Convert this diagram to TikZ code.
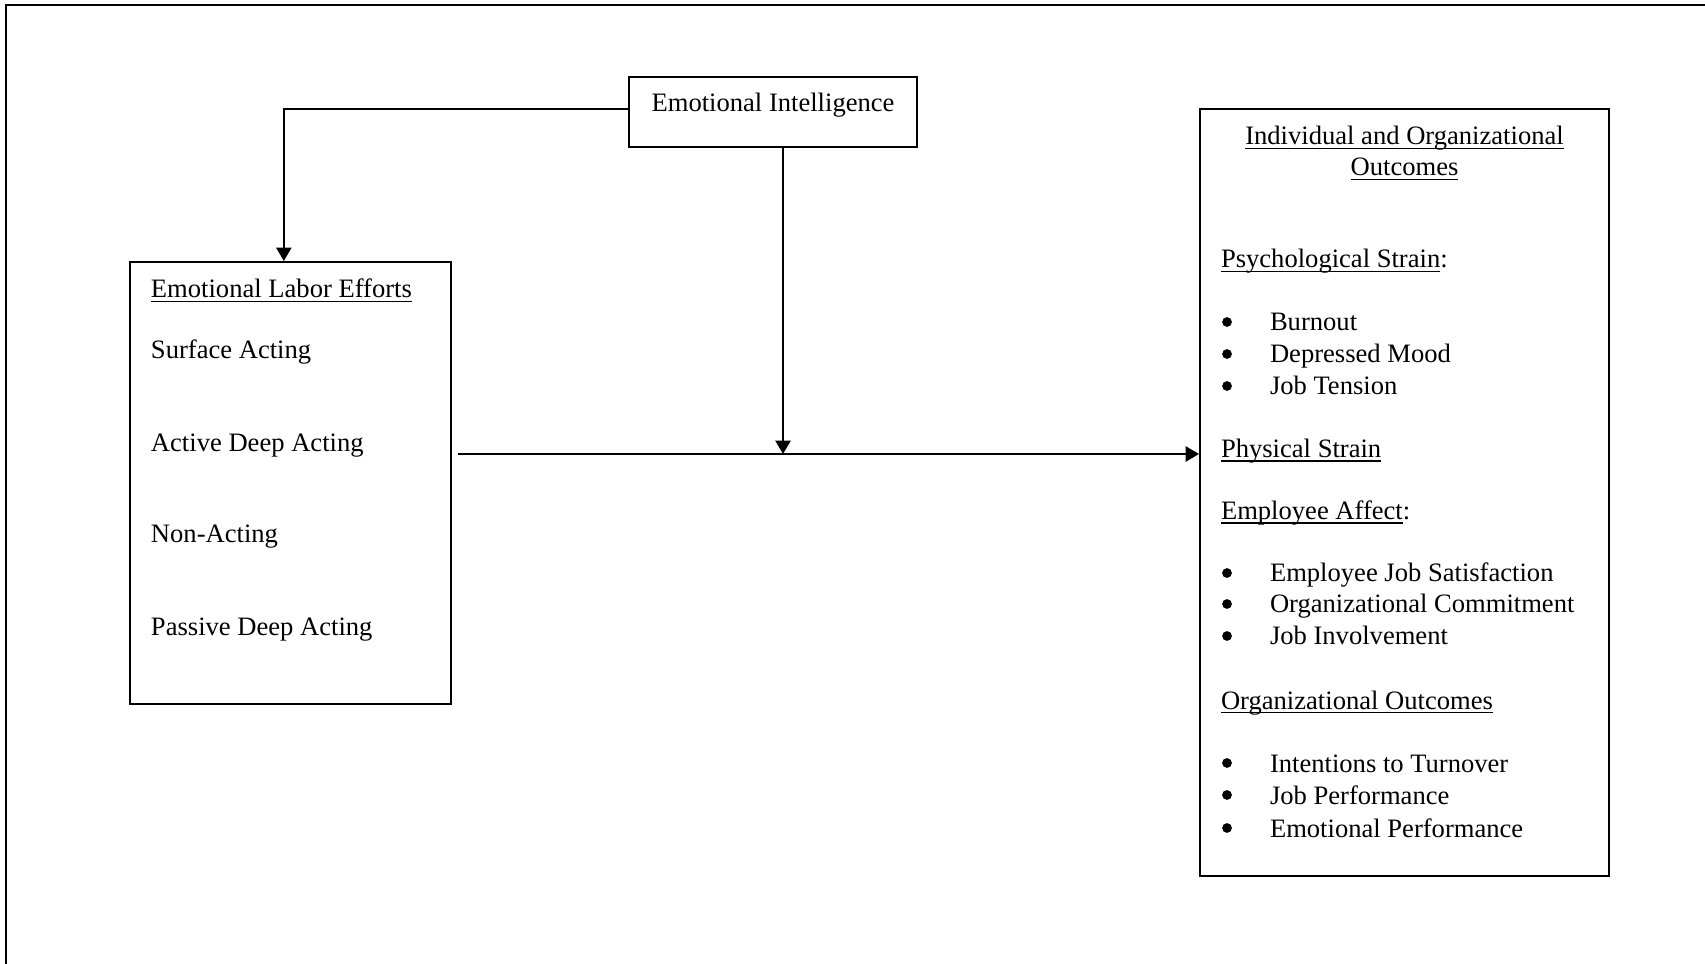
\documentclass[tikz,border=0pt]{standalone}
\usepackage{fontspec}
\setmainfont{Liberation Serif}
\usetikzlibrary{arrows.meta, fit}
\newcommand{\ulbox}[1]{\setbox0\hbox{#1}\rlap{\rule[-2pt]{\wd0}{0.7pt}}\box0}

\begin{document}
\begin{tikzpicture}[x=0.4514pt, y=-0.4514pt, line width=0.9pt,
    every node/.style={font=\fontsize{12}{14}\selectfont, inner sep=0pt},
    box/.style={draw, line width=0.9pt},
    txt/.style={anchor=base west},
    arr/.style={-{Triangle[width=6.8pt, length=6pt]}}]
  \useasboundingbox (0,0) rectangle (1705,964);
  % frame
  \draw (6,964) -- (6,5) -- (1705,5);

  % boxes
  \node[box, fit={(629,77) (917,147)}] (ei) {};
  \node[anchor=base] (eitxt) at (773,112) {Emotional Intelligence};

  \node[box, fit={(130,262) (451,704)}] (ele) {};
  \node[txt] (ele0) at (150,298) {\ulbox{Emotional Labor Efforts}};
  \node[txt] (ele1) at (150,359) {Surface Acting};
  \node[txt] (ele2) at (150,452) {Active Deep Acting};
  \node[txt] (ele3) at (150,543) {Non-Acting};
  \node[txt] (ele4) at (150,636) {Passive Deep Acting};

  \node[box, fit={(1200,109) (1609,876)}] (out) {};
  \node[anchor=base] (out0) at (1404.5,145) {\ulbox{Individual and Organizational}};
  \node[anchor=base] (out1) at (1404.5,176) {\ulbox{Outcomes}};
  \node[txt] (psy) at (1220,268) {\ulbox{Psychological Strain}:};
  \node[txt] (phy) at (1220,457.5) {\ulbox{Physical Strain}};
  \node[txt] (aff) at (1220,519.5) {\ulbox{Employee Affect}:};
  \node[txt] (org) at (1220,709) {\ulbox{Organizational Outcomes}};
  \foreach \y/\t [count=\i] in {331/Burnout, 363/Depressed Mood, 395/Job Tension,
      582/Employee Job Satisfaction, 613/Organizational Commitment, 645/Job Involvement,
      772/Intentions to Turnover, 804/Job Performance, 837/Emotional Performance} {
    \fill (1227,{\y-9}) circle[radius=2.2pt];
    \node[txt] (item\i) at (1269,\y) {\t};
  }

  % connectors
  \coordinate (jn) at (783,454);
  \draw[arr] ([yshift=1.4pt]ei.west) -| ([xshift=-3pt]ele.north);
  \draw[arr] (ei.south -| jn) -- (jn);
  \draw[arr] (ele.east |- jn) ++(2.7pt,0) -- (out.west |- jn);
\end{tikzpicture}
\end{document}
